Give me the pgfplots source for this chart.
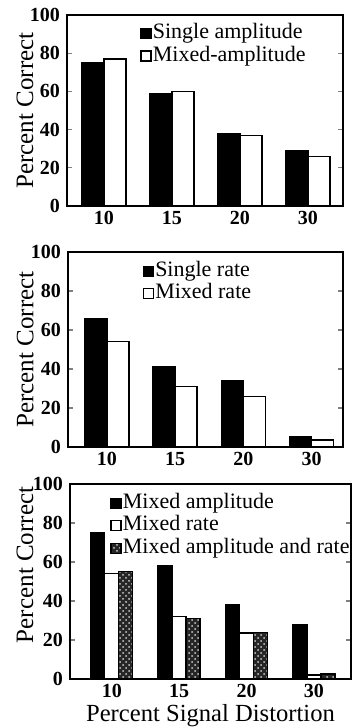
\documentclass[border=0pt]{standalone}
\usepackage{fontspec}
\setmainfont{Liberation Serif}
\usepackage{pgfplots}
\pgfplotsset{compat=1.18}
\usetikzlibrary{patterns}
\pgfplotsset{
  panel/.style={
    scale only axis,
    anchor=south west,
    ybar=0pt,
    ymin=0, ymax=100,
    ytick={0,20,40,60,80,100},
    xtick={0,1,2,3},
    xticklabels={10,15,20,30},
    xtick style={draw=none},
    ytick style={line width=0.6pt},
    tick align=inside,
    major tick length=2.5pt,
    axis line style={line width=1pt},
    /pgf/number format/assume math mode=true,
    tick label style={font=\fontsize{10}{12}\selectfont\bfseries},
    xticklabel style={inner sep=0.5pt, yshift=-2pt},
    every axis y label/.style={at={(axis description cs:-0.152,0.5)}, rotate=90, anchor=center, font=\fontsize{12.5}{14}\selectfont},
    ylabel={Percent Correct},
    legend cell align=left,
    legend style={draw=none, fill=none, anchor=north west, inner sep=0pt, row sep=0pt,
      font=\fontsize{11}{12}\selectfont,
      nodes={inner sep=0.6pt, text height=7.5pt, text depth=2.5pt}},
  },
  blk/.style={fill=black, draw=black, line width=0.7pt,
    legend image code/.code={\draw[fill=black,draw=black] (0pt,-2.5pt) rectangle (5pt,2.5pt);}},
  wht/.style={fill=white, draw=black, line width=0.7pt,
    legend image code/.code={\draw[fill=white,draw=black,line width=0.6pt] (0pt,-2.5pt) rectangle (5pt,2.5pt);}},
  dot/.style={fill=black!85, draw=black, line width=0.7pt, postaction={pattern=crosshatch dots, pattern color=white!80!black},
    legend image code/.code={\draw[fill=black!85,draw=black] (0pt,-2.5pt) rectangle (5pt,2.5pt);}},
}
\begin{document}
\begin{tikzpicture}
\path[use as bounding box] (0,0) rectangle (176pt,-364pt);
% Panel 1
\begin{axis}[panel, at={(33.5pt,-103pt)}, width=138pt, height=95.5pt,
  xmin=-0.544, xmax=3.515, bar width=11pt,
  legend style={at={(axis description cs:0.264,0.963)}}]
\addplot[blk] coordinates {(0,75) (1,59) (2,38) (3,29)};
\addplot[wht] coordinates {(0,77) (1,60) (2,37) (3,26)};
\legend{Single amplitude, Mixed-amplitude}
\end{axis}
% Panel 2
\begin{axis}[panel, at={(34pt,-223.5pt)}, width=137.5pt, height=97.5pt,
  xmin=-0.57, xmax=3.46, bar width=11pt,
  every axis y label/.append style={at={(axis description cs:-0.156,0.5)}},
  legend style={at={(axis description cs:0.27,0.96)}}]
\addplot[blk] coordinates {(0,66) (1,41) (2,34) (3,5.5)};
\addplot[wht] coordinates {(0,54) (1,31) (2,26) (3,3.5)};
\legend{Single rate, Mixed rate}
\end{axis}
% Panel 3
\begin{axis}[panel, at={(35pt,-339.5pt)}, width=140.5pt, height=97.5pt,
  xmin=-0.62, xmax=3.55, bar width=7pt,
  every axis y label/.append style={at={(axis description cs:-0.16,0.585)}},
  xlabel={Percent Signal Distortion},
  every axis x label/.style={at={(axis description cs:0.5,0)}, anchor=base, yshift=-21pt, font=\fontsize{12.3}{14}\selectfont, inner sep=0pt},
  legend style={at={(axis description cs:0.142,0.96)}}]
\addplot[blk] coordinates {(0,75) (1,58) (2,38) (3,28)};
\addplot[wht] coordinates {(0,54) (1,32) (2,23.5) (3,2)};
\addplot[dot] coordinates {(0,55) (1,31) (2,24) (3,2.5)};
\legend{Mixed amplitude, Mixed rate, Mixed amplitude and rate}
\end{axis}
\end{tikzpicture}
\end{document}
